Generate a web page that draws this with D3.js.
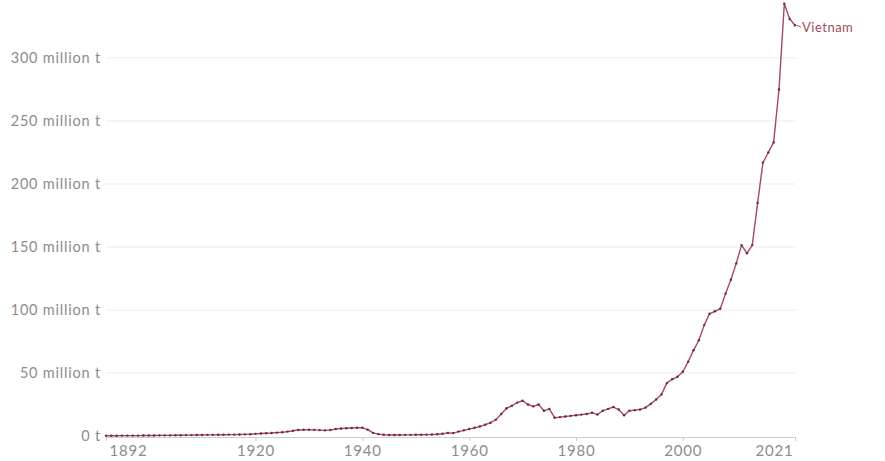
<!DOCTYPE html>
<html>
<head>
<meta charset="utf-8">
<script src="https://cdn.jsdelivr.net/npm/d3@7"></script>
<style>
  html, body { margin: 0; padding: 0; background: #fff; }
  svg { display: block; font-family: Lato, "Noto Sans", sans-serif; }
</style>
</head>
<body>
<svg id="chart" width="885" height="461"></svg>
<script>
const seriesName = "Vietnam";
const startYear = 1892;
const values = [
  // 1892-1919
  0.2,0.2,0.2,0.3,0.3,0.3,0.3,0.4,0.4,0.4,0.5,0.5,0.5,0.6,0.6,0.7,0.7,0.8,0.8,0.9,0.9,1.0,1.0,1.1,1.1,1.2,1.3,1.4,
  // 1920-1929
  1.7,2.0,2.2,2.4,2.7,3.0,3.5,4.2,4.8,5.0,
  // 1930-1939
  5.0,4.9,4.7,4.5,4.8,5.5,6.0,6.2,6.4,6.6,
  // 1940-1949
  6.5,5.0,2.5,1.5,1.0,0.8,0.8,0.8,0.9,0.9,
  // 1950-1959
  1.0,1.0,1.1,1.2,1.4,1.8,2.5,2.3,3.5,4.5,
  // 1960-1969
  5.5,6.5,7.5,9.0,10.5,13.0,17.5,22.0,24.0,26.5,
  // 1970-1979
  28.0,25.0,23.5,25.0,20.0,21.5,14.5,15.0,15.5,16.0,
  // 1980-1989
  16.5,17.0,17.5,18.5,17.0,20.0,21.5,23.0,21.0,16.5,
  // 1990-1999
  20.0,20.5,21.0,22.5,25.5,29.0,33.0,42.0,45.0,47.0,
  // 2000-2009
  51.0,59.0,68.0,76.0,88.0,97.0,99.0,101.0,113.0,124.0,
  // 2010-2019
  137.0,151.5,145.0,151.5,185.0,217.0,225.0,233.0,275.0,343.0,
  // 2020-2021
  331.0,326.0
];
const years = values.map((v, i) => startYear + i);
const yTicks = [0, 50, 100, 150, 200, 250, 300];
const yTickLabels = ["0 t", "50 million t", "100 million t", "150 million t", "200 million t", "250 million t", "300 million t"];
const xTicks = [1892, 1920, 1940, 1960, 1980, 2000, 2021];

const data = years.map((y, i) => ({ year: y, value: values[i] }));

const svg = d3.select("#chart");
const left = 106, right = 795, bottom = 436, top300 = 58;

const x = d3.scaleLinear().domain([1892, 2021]).range([left, right]);
const y = d3.scaleLinear().domain([0, 300]).range([bottom, top300]);

// gridlines
svg.append("g")
  .selectAll("line")
  .data(yTicks.filter(t => t > 0))
  .join("line")
  .attr("x1", left).attr("x2", right)
  .attr("y1", d => y(d)).attr("y2", d => y(d))
  .attr("stroke", "#ebebeb").attr("stroke-width", 1);

// y labels
svg.append("g")
  .selectAll("text")
  .data(yTicks)
  .join("text")
  .attr("x", left - 5)
  .attr("y", d => y(d))
  .attr("dy", "0.35em")
  .attr("text-anchor", "end")
  .attr("fill", "#8c8c8c")
  .attr("font-size", 14.5)
  .attr("letter-spacing", "0.8")
  .text((d, i) => yTickLabels[i]);

// x axis
const xAxis = d3.axisBottom(x).tickValues(xTicks).tickFormat(d3.format("d")).tickSize(4).tickPadding(4);
const gx = svg.append("g").attr("transform", `translate(0,${bottom + 1})`).call(xAxis);
gx.select(".domain").attr("stroke", "#cccccc");
gx.selectAll(".tick line").attr("stroke", "#cccccc");
gx.selectAll(".tick text")
  .attr("fill", "#8c8c8c")
  .attr("font-size", 15)
  .attr("letter-spacing", "0.8")
  .attr("font-family", "Lato, 'Noto Sans', sans-serif")
  .attr("text-anchor", d => d === 1892 ? "start" : (d === 2021 ? "end" : "middle"))
  .attr("dx", d => d === 1892 ? "3" : (d === 2021 ? "-2" : "0"));

// line
const line = d3.line().x(d => x(d.year)).y(d => y(d.value));
const color = "#a34a5e";
svg.append("path")
  .datum(data)
  .attr("fill", "none")
  .attr("stroke", color)
  .attr("stroke-width", 1.4)
  .attr("stroke-linejoin", "round")
  .attr("d", line);

svg.append("g")
  .selectAll("circle")
  .data(data)
  .join("circle")
  .attr("cx", d => x(d.year))
  .attr("cy", d => y(d.value))
  .attr("r", 1.2)
  .attr("fill", "#6d2838");

// series label
const last = data[data.length - 1];
const lx = x(last.year), ly = y(last.value);
svg.append("line")
  .attr("x1", lx + 2).attr("y1", ly)
  .attr("x2", lx + 6).attr("y2", ly + 2)
  .attr("stroke", color).attr("stroke-width", 1);
svg.append("text")
  .attr("x", lx + 7)
  .attr("y", ly + 2)
  .attr("dy", "0.35em")
  .attr("fill", color)
  .attr("font-size", 13)
  .attr("letter-spacing", "0.5")
  .text(seriesName);
</script>
</body>
</html>
